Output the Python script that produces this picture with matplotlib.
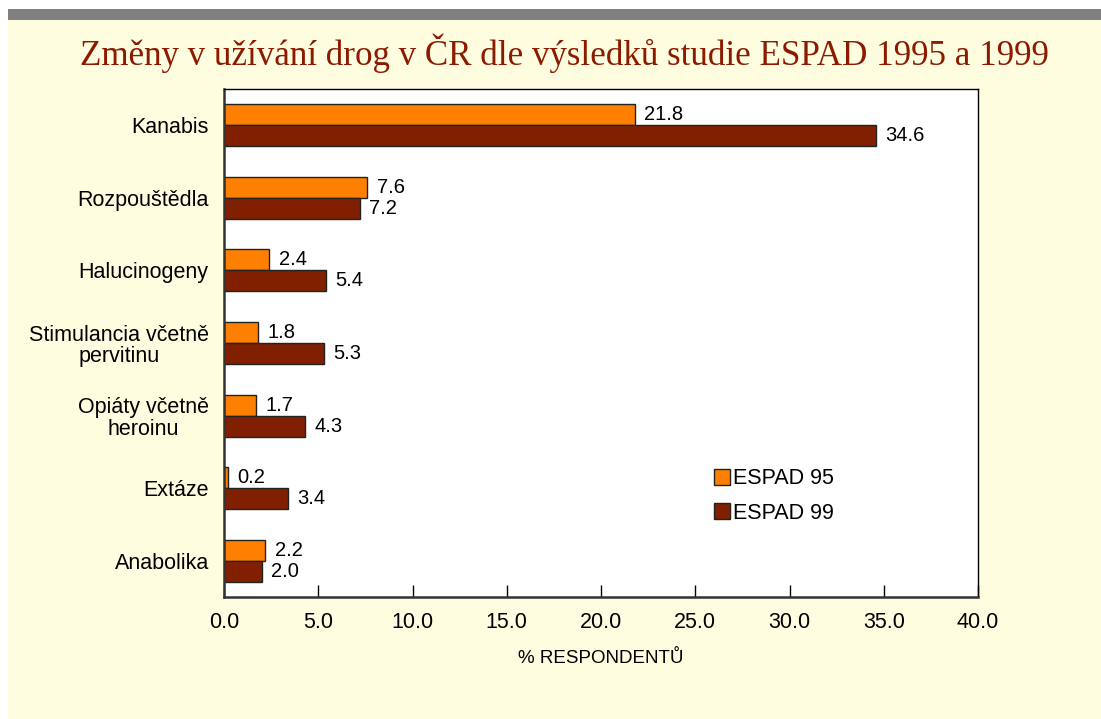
import matplotlib.pyplot as plt
from matplotlib.patches import Rectangle
import numpy as np

categories = ['Kanabis', 'Rozpouštědla', 'Halucinogeny', 'Stimulancia včetně\npervitinu',
              'Opiáty včetně\nheroinu', 'Extáze', 'Anabolika']
espad95 = [21.8, 7.6, 2.4, 1.8, 1.7, 0.2, 2.2]
espad99 = [34.6, 7.2, 5.4, 5.3, 4.3, 3.4, 2.0]
xticks = [0, 5, 10, 15, 20, 25, 30, 35, 40]

bg = '#FFFDE0'
c95 = '#FF8000'
c99 = '#802000'

plt.rcParams['font.family'] = ['Liberation Sans', 'DejaVu Sans']

fig = plt.figure(figsize=(11.01, 7.19), dpi=100, facecolor='white')
# yellow slide background and grey strip at the top
fig.patches.append(Rectangle((8/1101, 0), 1, 1 - 20/719, transform=fig.transFigure,
                             facecolor=bg, edgecolor='none', zorder=-2))
fig.patches.append(Rectangle((8/1101, 1 - 20/719), 1, 11/719, transform=fig.transFigure,
                             facecolor='#808080', edgecolor='none', zorder=-1))

fig.text(564/1101, 1 - 53/719, 'Změny v užívání drog v ČR dle výsledků studie ESPAD 1995 a 1999',
         ha='center', va='center', family='Liberation Serif', fontsize=25.2, color='#8B1A00')

ax = fig.add_axes([224/1101, 1 - 597/719, 754/1101, 508/719])
ax.set_facecolor('white')

y = np.arange(len(categories))
h = 0.29
ax.barh(y - h/2, espad95, height=h, color=c95, edgecolor='#222222', linewidth=1, label='ESPAD 95')
ax.barh(y + h/2, espad99, height=h, color=c99, edgecolor='#222222', linewidth=1, label='ESPAD 99')

for i in range(len(categories)):
    ax.text(espad95[i] + 0.5, y[i] - h/2, '%.1f' % espad95[i], va='center', ha='left', fontsize=14.5)
    ax.text(espad99[i] + 0.5, y[i] + h/2, '%.1f' % espad99[i], va='center', ha='left', fontsize=14.5)

ax.set_xlim(0, 40)
ax.set_ylim(len(categories) - 0.5, -0.5)
ax.set_yticks(y)
ax.set_yticklabels(categories, fontsize=15.5, multialignment='center', linespacing=1.05)
ax.tick_params(axis='y', length=0, pad=11)
ax.set_xticks(xticks)
ax.set_xticklabels(['%.1f' % t for t in xticks], fontsize=15.5)
ax.tick_params(axis='x', direction='in', length=9, width=1, pad=11)
ax.set_xlabel('% RESPONDENTŮ', fontsize=13.5, labelpad=12)
for s in ax.spines.values():
    s.set_color('black')
    s.set_linewidth(1)
for s in ['left', 'bottom']:
    ax.spines[s].set_linewidth(1.8)
    ax.spines[s].set_color('#333333')

ax.legend(loc='upper left', bbox_to_anchor=(0.638, 0.27), frameon=False, fontsize=15.5,
          handlelength=0.75, handleheight=0.75, handletextpad=0.15, labelspacing=0.62,
          borderaxespad=0)

plt.savefig('out.png', dpi=100, facecolor=fig.get_facecolor())
